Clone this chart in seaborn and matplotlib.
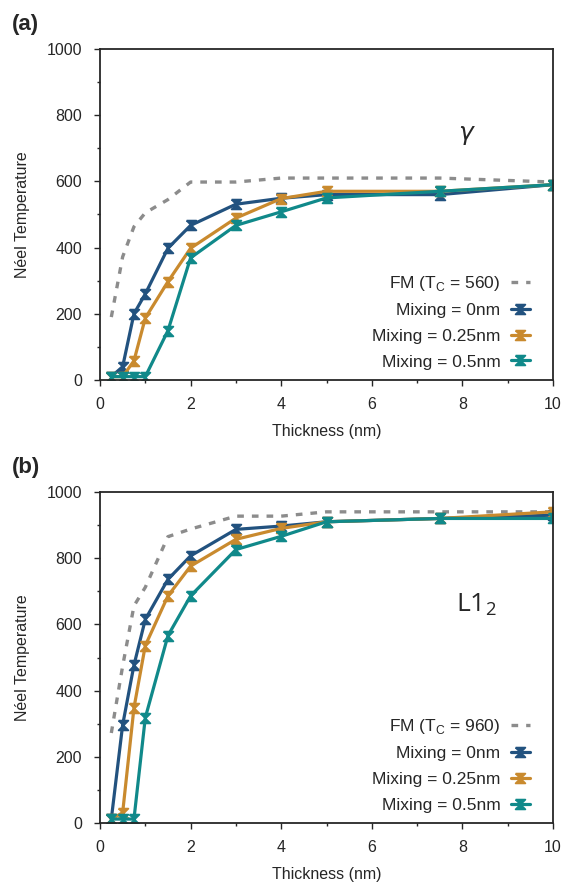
import numpy as np
import pandas as pd
import matplotlib
matplotlib.use("Agg")
import matplotlib.pyplot as plt
import seaborn as sns

# datos
espesor = [0.25, 0.5, 0.75, 1.0, 1.5, 2.0, 3.0, 4.0, 5.0, 7.5, 10.0]

fm_gamma = [190, 372, 463, 505, 545, 598, 598, 610, 610, 610, 598]
mix0_gamma = [10, 40, 200, 260, 398, 467, 531, 549, 560, 560, 590]
mix025_gamma = [10, 10, 58, 187, 297, 398, 489, 548, 570, 570, 590]
mix05_gamma = [10, 10, 10, 10, 149, 369, 467, 508, 550, 570, 590]

fm_l12 = [272, 474, 656, 712, 865, 888, 927, 927, 940, 940, 940]
mix0_l12 = [12, 296, 477, 615, 736, 807, 887, 897, 910, 920, 930]
mix025_l12 = [12, 31, 348, 536, 686, 776, 857, 890, 910, 920, 940]
mix05_l12 = [12, 12, 12, 318, 566, 686, 826, 866, 910, 920, 920]

etiquetas = ["Mixing = 0nm", "Mixing = 0.25nm", "Mixing = 0.5nm"]
colores = ["#22527f", "#c98a2e", "#10898a"]

sns.set_style("ticks")
plt.rcParams['font.family'] = ['Liberation Sans', 'DejaVu Sans']

# marcador tipo reloj de arena (barras de error)
reloj = [(-1, 1), (1, 1), (-1, -1), (1, -1), (-1, 1)]

fig = plt.figure(figsize=(5.82, 8.89), dpi=100)
ax_a = fig.add_axes([0.1718, 0.5726, 0.7784, 0.3723])
ax_b = fig.add_axes([0.1718, 0.0742, 0.7784, 0.3724])


def dibujar_panel(ax, fm, series, tc, letra):
    sns.lineplot(x=espesor, y=fm, ax=ax, color="#8c8c8c", linestyle=(0, (2.0, 2.4)),
                 linewidth=2.4, label=f"FM (T$_\\mathregular{{C}}$ = {tc})")
    for valores, etiqueta, color in zip(series, etiquetas, colores):
        sns.lineplot(x=espesor, y=valores, ax=ax, color=color, linewidth=2.3,
                     marker=reloj, markersize=7, markeredgewidth=1.3,
                     markeredgecolor=color, label=etiqueta)
    ax.set_xlim(0, 10)
    ax.set_ylim(0, 1000)
    ax.set_xticks(np.arange(0, 11, 2))
    ax.set_xticks(np.arange(1, 10, 2), minor=True)
    ax.set_yticks(np.arange(0, 1001, 200))
    ax.set_yticks(np.arange(100, 1000, 200), minor=True)
    ax.tick_params(which="major", length=4, width=1, labelsize=11.5, direction="out")
    ax.tick_params(axis="y", which="major", pad=9)
    ax.tick_params(axis="x", which="major", pad=8)
    ax.tick_params(which="minor", length=2.5, width=1, direction="out")
    for lado in ["top", "right", "left", "bottom"]:
        ax.spines[lado].set_visible(True)
        ax.spines[lado].set_linewidth(1.3)
    ax.set_xlabel("Thickness (nm)", fontsize=11.5, labelpad=9)
    ax.set_ylabel("Néel Temperature", fontsize=11.5, labelpad=12)
    ax.legend(loc="lower right", frameon=False, markerfirst=False, fontsize=12.5,
              handlelength=1.1, handletextpad=0.6, labelspacing=0.6,
              borderaxespad=0.2, bbox_to_anchor=(0.972, 0.0))
    ax.text(-0.195, 1.105, letra, transform=ax.transAxes, fontsize=16,
            fontweight="bold", ha="left", va="top")
    return ax


dibujar_panel(ax_a, fm_gamma, [mix0_gamma, mix025_gamma, mix05_gamma], 560, "(a)")
dibujar_panel(ax_b, fm_l12, [mix0_l12, mix025_l12, mix05_l12], 960, "(b)")

ax_a.text(8.1, 740, "$\\gamma$", fontsize=18, ha="center", va="center")
ax_b.text(8.3, 660, "L1$_\\mathregular{2}$", fontsize=19, ha="center", va="center",
          family=['Open Sans', 'DejaVu Sans'])

fig.savefig("out.png", dpi=100)
